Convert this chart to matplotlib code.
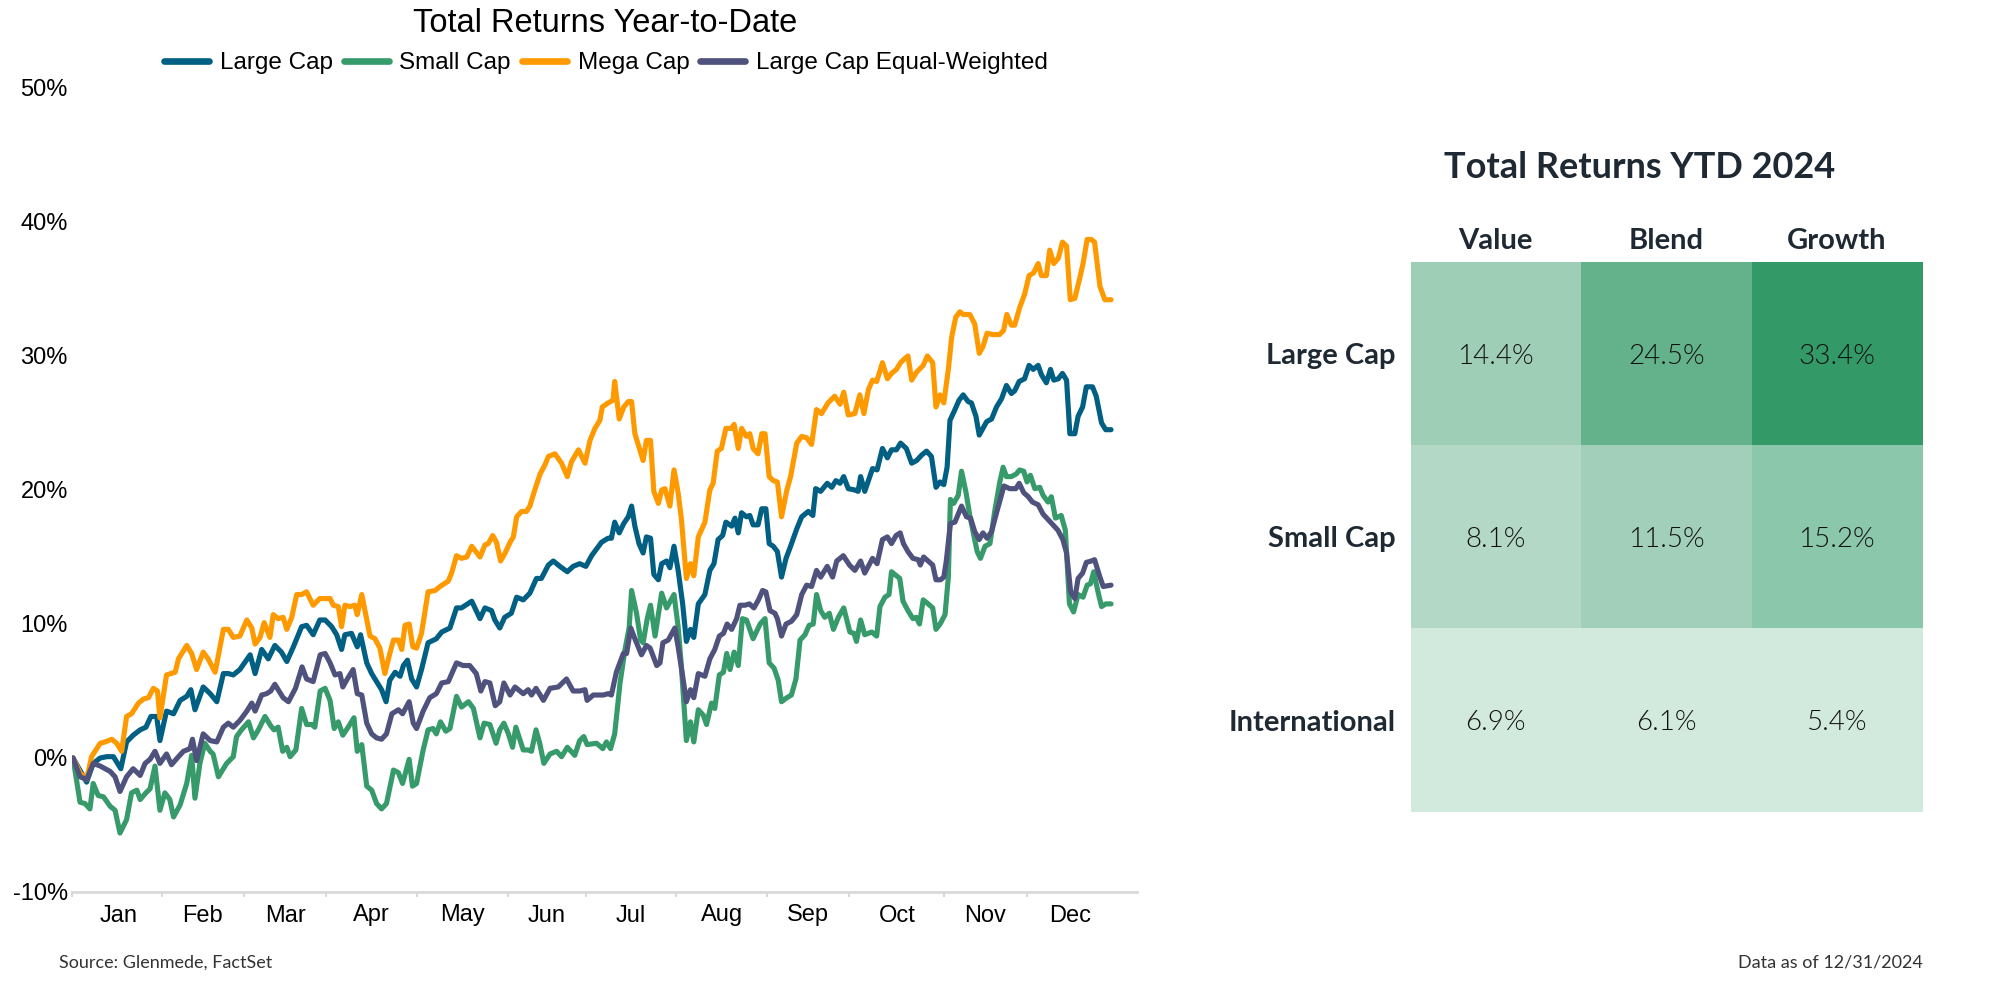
import numpy as np
import matplotlib
matplotlib.use("Agg")
import matplotlib.pyplot as plt
from matplotlib.lines import Line2D
from matplotlib.colors import to_rgb

# ---------------- DATA ----------------
# (trading session since 12/29/2023, total return %)
large_cap = [(0,0),(3.3,-1.8),(4.9,-0.4),(6.6,0.0),(8.2,0.1),(9.8,0.1),(11.6,-0.8),(13,1.2),(14.6,1.7),(16.3,2.1),
    (17.7,2.3),(18.9,3.1),(20.3,3.1),(21.1,1.3),(22.7,3.5),(24.4,3.3),(26,4.3),(27.6,4.6),(28.6,5.1),(29.6,3.6),
    (31.6,5.3),(33.3,4.8),(34.9,4.2),(36.5,6.3),(37.7,6.3),(38.9,6.2),(40.5,6.6),(43,7.7),(44.2,6.3),(45.8,8.1),
    (47.4,7.4),(49,8.4),(50.6,7.9),(51.9,7.2),(53.5,8.3),(55.5,9.8),(56.7,9.9),(58.3,9.2),(59.9,10.3),(61.2,10.3),
    (62.8,9.8),(64,9.2),(65.2,8.1),(66,9.2),(67.6,9.3),(69,8.3),(69.8,9.2),(71.3,7.1),(72.5,6.3),(73.7,5.7),
    (74.9,5.1),(76,4.2),(76.9,5.8),(78.2,6.4),(79.4,6.1),(80.2,6.9),(81.2,7.3),(82.2,5.9),(83.4,5.3),(84.6,6.6),
    (86.2,8.6),(88.2,8.9),(89.5,9.4),(91.5,9.7),(93.1,11.2),(94.3,11.2),(96.8,11.7),(98.8,10.4),(100,11.2),(101.6,11.0),
    (102.4,10.3),(103.6,9.7),(104.8,10.5),(106.4,10.8),(107.7,12.0),(109.3,11.8),(110.9,12.3),(112.5,13.4),(113.7,13.4),
    (115.4,14.4),(116.6,14.7),(118.2,14.3),(120,13.9),(121.4,14.3),(123,14.5),(124.5,14.3),(125.9,15.1),(127.1,15.6),
    (128.3,16.1),(129.9,16.4),(130.7,16.4),(131.5,17.6),(132.6,16.8),(133.7,17.5),(134.8,18.0),(135.6,18.8),(136.4,17.3),
    (137.4,16.0),(138.4,15.3),(139.2,16.5),(140.2,16.4),(141,13.7),(142.1,13.3),(142.9,14.5),(144.1,14.7),(144.9,14.2),
    (145.9,15.8),(146.9,14.0),(148,11.5),(148.9,8.7),(149.9,9.6),(150.7,9.0),(151.8,11.5),(153.4,12.2),(154.6,14.0),
    (155.6,14.5),(156.6,16.3),(157.7,16.6),(158.5,17.6),(159.9,17.3),(160.7,17.9),(161.5,16.8),(162.3,18.3),(163.5,18.0),
    (164.3,18.1),(165.1,17.4),(166.3,17.4),(167.2,18.6),(168.2,18.6),(169,16.0),(170,15.8),(171,15.4),(172,13.5),
    (173.1,14.9),(174.2,15.8),(175.7,17.1),(176.9,18.0),(178.5,18.4),(179.6,18.1),(180.3,20.1),(181.5,19.9),(183.1,20.5),
    (184.2,20.2),(185.2,20.7),(186.2,20.5),(187.1,21.0),(188.2,20.1),(189.8,20.0),(190.6,19.9),(191.2,21.0),(192.2,19.9),
    (193.1,20.7),(194.1,21.6),(195.2,21.5),(196.5,23.1),(197.7,22.4),(198.7,23.0),(199.9,23.0),(200.9,23.5),(202.3,23.1),
    (203.6,22.0),(204.8,22.2),(206,22.6),(207.2,22.9),(208.4,22.5),(209.5,20.2),(210.5,20.6),(211.4,20.4),(212.2,21.7),
    (212.9,25.2),(214.1,26.0),(215.1,26.7),(216.1,27.1),(217.3,26.6),(218.1,26.5),(219.2,25.5),(220,24.1),(220.9,24.6),
    (221.8,25.1),(223,25.3),(224.2,26.2),(225.4,26.8),(226.6,27.8),(227.8,27.2),(228.6,27.4),(229.7,28.1),(231,28.3),
    (232.1,29.3),(233.1,29.0),(234.3,29.3),(235.1,28.6),(236.3,28.0),(237.3,29.0),(238.1,28.2),(239.2,28.3),(240.2,28.7),
    (241.2,28.2),(242,24.2),(243.2,24.2),(244,25.5),(245.1,26.2),(246,27.7),(247.5,27.7),(248.4,27.0),(249.7,25.0),
    (250.7,24.5),(252,24.5)]

small_cap = [(0,0),(1.7,-3.3),(2.9,-3.4),(4.1,-3.8),(4.9,-1.9),(6.1,-2.8),(7.4,-2.9),(9,-3.6),(10.2,-3.9),(11.4,-5.6),
    (13,-4.6),(14.2,-2.6),(15.5,-2.4),(16.3,-3.1),(17.7,-2.6),(18.7,-2.3),(19.9,-0.6),(21.1,-3.9),(22.3,-2.6),(23.5,-3.1),
    (24.4,-4.4),(26,-3.5),(27.6,-1.9),(28.8,0.2),(29.6,-3.0),(30.8,-0.4),(32,1.1),(33.3,0.5),(34,0.3),(35.3,-1.4),
    (37.3,-0.4),(38.9,0.1),(39.7,1.6),(40.9,2.1),(42.6,2.7),(43.8,1.5),(45,2.1),(46.6,3.1),(48,2.4),(48.8,2.1),
    (49.8,2.3),(50.9,0.5),(51.9,0.8),(52.7,0.1),(54.1,0.6),(55.5,3.7),(56.7,2.5),(58,2.5),(58.7,2.3),(60,5.0),
    (61.2,5.2),(62.4,4.3),(63.4,2.2),(64.4,2.7),(65.5,1.7),(66.8,2.3),(68.2,3.0),(69,0.5),(70.1,1.0),(71.3,-2.1),
    (72.5,-2.4),(73.7,-3.4),(74.9,-3.8),(76.1,-3.4),(77.8,-0.9),(79,-1.1),(80,-1.9),(81.6,-0.1),(82.4,-2.1),(83.4,-1.9),
    (85,0.6),(86.2,2.1),(87.4,2.2),(88.2,1.8),(89.2,2.7),(90.5,2.0),(91.5,2.2),(93.1,4.6),(94.3,3.8),(96,4.2),
    (97.2,3.7),(98.8,1.5),(99.8,2.6),(101.2,2.5),(102.7,1.1),(103.6,2.1),(104.6,2.6),(105.7,1.8),(106.7,0.8),(107.5,2.3),
    (109.3,0.6),(110.5,0.6),(111.3,0.5),(112.4,2.1),(113.3,1.1),(114.3,-0.4),(115.8,0.3),(117.4,0.5),(118.6,0.1),(120,0.8),
    (121.8,0.2),(123,1.3),(124,1.6),(124.8,1.0),(127.1,1.1),(128.6,0.7),(129.5,1.2),(130.5,0.7),(131.5,1.8),(132.8,5.6),
    (134,8.1),(135,9.7),(135.6,12.5),(136.8,10.8),(137.8,8.8),(138.4,8.6),(139.4,10.4),(140.2,11.4),(141.3,9.1),(142.1,10.7),
    (142.9,12.3),(144.1,11.2),(145.9,12.2),(146.9,9.8),(147.7,6.8),(148.9,1.3),(149.9,2.7),(150.7,1.2),(151.8,3.6),(153,3.2),
    (153.8,2.5),(155,4.1),(155.8,3.7),(156.9,6.2),(157.9,6.4),(158.7,7.8),(159.5,6.6),(160.5,7.9),(161.5,6.9),(162.5,10.4),
    (163.5,10.3),(165.1,8.9),(166.8,10.0),(168,10.4),(169,7.1),(170.2,6.7),(171.2,5.8),(172,4.2),(173.3,4.5),(174.4,4.7),
    (175.5,5.9),(176.5,8.8),(177.7,9.2),(178.7,9.9),(179.7,10.0),(180.5,12.2),(181.5,11.0),(182.5,10.5),(183.6,10.8),
    (184.6,9.6),(185.8,10.5),(187.1,11.2),(188.6,9.4),(189.6,9.3),(190.2,8.7),(191.2,10.3),(192.2,9.2),(193.9,9.4),
    (195.1,9.1),(195.9,11.3),(197.1,12.0),(198.1,12.2),(198.7,13.9),(200.7,13.4),(201.5,11.7),(202.7,11.0),(203.9,10.4),
    (204.7,10.5),(205.5,10.0),(206.4,11.8),(207.6,11.5),(208.7,11.2),(209.5,9.6),(210.5,10.0),(211.7,10.7),(212.5,13.5),
    (213,19.3),(213.8,19.0),(214.9,19.6),(215.7,21.4),(216.8,19.8),(217.7,18.1),(218.7,16.6),(219.5,15.4),(220.3,14.9),
    (221.4,15.8),(222.6,16.0),(223.8,18.5),(225,20.6),(225.8,21.7),(226.6,21.0),(227.8,21.0),(229,21.2),(229.8,21.5),
    (230.8,21.4),(231.6,20.6),(232.4,21.1),(233.5,20.1),(234.7,20.2),(235.5,19.6),(236.7,19.1),(237.5,19.5),(238.5,17.9),
    (239.9,18.1),(240.9,17.0),(241.9,11.5),(242.9,10.9),(244,12.2),(245.2,12.0),(246.2,12.9),(247,13.0),(247.8,13.9),
    (248.9,12.3),(249.7,11.3),(250.7,11.5),(252,11.5)]

mega_cap = [(0,0),(1.7,-1.1),(3.3,-1.6),(4.5,0.1),(6.6,1.1),(7.8,1.2),(9.4,1.4),(10.6,1.1),(11.8,0.5),(13,3.1),
    (14.2,3.3),(15.9,4.1),(17.1,4.4),(18.3,4.5),(19.5,5.2),(20.5,5.0),(21.1,3.0),(22.7,6.2),(24.8,6.4),(25.6,7.4),
    (27.6,8.4),(28.8,7.8),(30,6.6),(31.6,7.9),(32.8,7.4),(34.5,6.4),(36.5,9.6),(37.7,9.6),(38.9,9.0),(40.5,9.1),
    (42.2,10.3),(43.4,9.7),(44.2,8.5),(45.4,9.0),(46.4,10.1),(47.8,9.0),(48.6,10.7),(49.8,10.4),(51,10.5),(51.9,9.6),
    (53.1,10.5),(54.3,12.2),(55.5,12.2),(56.7,12.4),(58.3,11.4),(59.9,11.9),(62.4,11.9),(63.2,11.4),(64.4,11.3),(65.2,9.8),
    (66,11.4),(67.2,11.3),(68.4,11.4),(69,10.7),(70.1,12.2),(72.1,9.1),(73.3,8.9),(74.5,8.2),(75.7,6.3),(76.9,7.8),
    (77.8,8.8),(79,8.8),(79.8,8.1),(80.6,9.9),(81.6,10.0),(82.5,8.3),(83.4,8.2),(84.6,9.3),(86.2,12.4),(87.9,12.5),
    (89.1,12.8),(91.1,13.2),(91.9,13.8),(93.1,15.1),(94.3,14.9),(95.6,15.0),(96.8,15.8),(98.8,15.0),(100,15.9),(100.8,16.0),
    (101.9,16.6),(102.8,16.1),(103.8,14.7),(104.9,15.3),(106.1,16.1),(106.9,16.5),(107.7,18.0),(108.9,18.4),(110.1,18.4),
    (110.9,18.8),(112.2,20.1),(113.4,21.2),(114.6,21.9),(115.4,22.5),(117,22.7),(118.6,22.0),(120,21.0),(121,22.1),
    (122.7,23.0),(124.3,22.0),(125.5,23.7),(126.7,24.6),(127.9,25.2),(128.5,26.2),(129.9,26.5),(131.1,26.7),(131.5,28.1),
    (132.6,25.3),(133.7,26.2),(134.8,26.6),(135.6,26.6),(136.4,24.2),(137.6,23.0),(138.4,22.2),(139.2,23.7),(140.2,23.7),
    (141,19.9),(142.1,19.0),(142.9,20.0),(143.7,20.1),(144.9,18.8),(145.9,21.5),(146.9,19.8),(147.7,17.8),(148.9,13.4),
    (149.9,14.5),(150.7,13.6),(151.8,16.5),(153.4,17.6),(154.6,20.0),(155.4,20.5),(156.4,22.9),(157.4,23.1),(158.5,24.6),
    (159.9,24.6),(160.5,24.9),(161.5,23.1),(162.3,24.6),(163.5,24.0),(164.3,24.2),(165.1,23.1),(166.3,22.7),(167.2,24.2),
    (168,24.2),(169,21.0),(170,20.7),(171,20.6),(172,18.0),(173.3,20.0),(174.2,21.0),(175.7,23.5),(176.9,24.0),(178.1,23.9),
    (179.3,23.4),(180.5,26.0),(181.7,25.7),(183.3,26.5),(184.9,27.0),(186.2,26.4),(187.1,27.3),(188.2,25.6),(189.8,25.7),
    (191,27.1),(192,25.7),(193.1,27.5),(194.1,28.2),(195.1,28.1),(196.5,29.5),(197.7,28.3),(198.7,28.7),(199.9,29.0),
    (200.9,29.5),(201.9,29.8),(202.7,30.0),(203.6,28.2),(204.8,28.8),(206.4,29.3),(207.4,30.0),(208.7,29.5),(209.5,26.2),
    (210.5,27.1),(211.4,26.5),(212.5,29.0),(213.3,31.4),(214.3,32.9),(215.3,33.3),(216.1,33.1),(217.7,33.1),(218.9,32.4),
    (220,30.2),(220.9,30.7),(221.9,31.7),(223.3,31.6),(224.9,31.6),(225.9,31.9),(226.7,33.1),(227.8,32.3),(228.6,32.3),
    (229.8,33.6),(231,34.6),(232.1,36.0),(233.2,36.2),(234.3,36.9),(235.1,36.0),(236.3,36.0),(237.1,37.9),(238.1,36.9),
    (239.2,37.3),(240.2,38.5),(241.2,38.2),(242.1,34.2),(243.2,34.3),(244.4,35.8),(245.2,36.9),(246.2,38.7),(247.2,38.7),
    (248,38.5),(249.3,35.2),(250.5,34.2),(252,34.2)]

equal_weighted = [(0,0),(1.7,-1.4),(3.3,-1.6),(4.9,-0.4),(6.6,-0.6),(9,-1.0),(10.2,-1.4),(11.4,-2.5),(13,-1.4),(14.6,-0.8),
    (16.3,-1.3),(17.5,-0.4),(18.7,-0.1),(19.9,0.5),(21.1,-0.4),(22.7,0.3),(23.9,-0.5),(25.6,0.1),(26.8,0.5),(28.4,0.7),
    (29,1.4),(30,-0.2),(31.6,1.8),(33.3,1.3),(34.9,1.2),(36.5,2.3),(37.7,2.6),(38.9,2.3),(40.5,2.8),(42.2,3.5),
    (43.4,4.1),(44.2,3.5),(45.8,4.7),(47,4.8),(48,5.0),(49,5.5),(51,4.5),(52.3,4.2),(54,5.2),(55.6,6.8),
    (56.7,5.9),(58.3,5.7),(60,7.7),(61.2,7.8),(62.4,7.1),(63.6,6.2),(64.8,6.3),(65.5,5.3),(66.4,5.8),(68,6.6),
    (69,4.8),(70.1,4.7),(71.3,2.6),(72.5,1.8),(73.7,1.5),(74.9,1.4),(76.1,1.8),(77.4,3.3),(79,3.6),(80,3.3),
    (81.6,4.2),(82.6,2.6),(83.4,2.2),(85,3.5),(86.6,4.5),(88.2,4.8),(89.5,5.6),(91.1,5.7),(93.1,7.1),(94.7,6.9),
    (96.3,6.9),(97.9,6.3),(99,5.0),(100,5.7),(101.2,5.6),(102.5,3.9),(103.6,4.2),(104.6,5.6),(106.1,4.7),(107.3,5.3),
    (109.3,4.8),(110.5,5.1),(111.3,4.7),(112.4,5.2),(114.2,4.3),(115.8,5.2),(117.8,5.3),(119.8,5.9),(121.4,5.0),(123,5.0),
    (124.3,5.1),(124.8,4.3),(126.3,4.7),(128.7,4.7),(129.9,4.8),(130.7,4.7),(131.9,6.4),(133.6,7.8),(134.4,7.8),(135.4,9.7),
    (136.4,8.9),(138,7.7),(139.2,8.4),(140.1,8.2),(141.7,6.9),(142.5,7.1),(143.2,8.6),(144.5,8.8),(146.1,9.7),(146.9,8.3),
    (148,6.1),(148.9,4.2),(149.9,5.1),(150.7,4.5),(151.8,6.3),(153.4,6.1),(154.6,7.4),(155.8,8.1),(156.9,9.1),(157.9,9.3),
    (158.8,10.0),(159.9,9.6),(161.1,10.4),(161.9,11.4),(163.1,11.4),(164.2,11.5),(165.3,11.2),(166.4,11.8),(167.4,12.5),
    (168.2,12.4),(169.2,11.0),(170.4,10.8),(171,10.4),(172,9.1),(173.1,10.0),(174.4,10.2),(175.7,10.7),(176.9,12.2),
    (178.1,12.9),(179.3,12.8),(180.5,14.0),(181.5,13.5),(183.1,14.3),(184.4,13.5),(185.4,14.7),(187,15.1),(188.5,14.4),
    (189.8,14.0),(191.2,14.7),(192.2,13.8),(194.1,14.9),(195.2,14.5),(196.5,16.3),(197.7,16.5),(198.7,16.0),(199.8,16.6),
    (200.8,16.8),(201.6,16.0),(202.7,15.4),(203.9,14.9),(205.2,14.8),(205.7,14.4),(206.5,15.0),(207.6,14.7),(208.7,14.4),
    (209.5,13.3),(210.6,13.3),(211.4,13.5),(212,14.7),(213,17.5),(214.1,17.6),(215.7,18.8),(216.9,18.0),(217.9,17.9),
    (218.9,16.9),(220,16.3),(220.9,16.8),(221.9,16.4),(223,16.9),(224.2,18.3),(226,20.3),(227.4,20.1),(228.9,20.1),
    (229.7,20.5),(230.8,19.8),(231.9,19.5),(232.9,19.1),(234.3,18.9),(235.5,18.2),(236.7,17.8),(237.9,17.4),(239.1,17.0),
    (240.3,16.3),(241.2,15.3),(242.2,12.4),(243.2,11.9),(244,13.4),(245.1,13.8),(246,14.6),(247.2,14.7),(248,14.8),
    (249.3,13.5),(250.1,12.8),(252,12.9)]

series_names = ["Large Cap", "Small Cap", "Mega Cap", "Large Cap Equal-Weighted"]
series_data = [large_cap, small_cap, mega_cap, equal_weighted]
series_colors = ["#005F83", "#369A6A", "#FF9900", "#4F527C"]

months = ["Jan", "Feb", "Mar", "Apr", "May", "Jun", "Jul", "Aug", "Sep", "Oct", "Nov", "Dec"]
nyse_holidays_2024 = ["2024-01-01", "2024-01-15", "2024-02-19", "2024-03-29", "2024-05-27",
                      "2024-06-19", "2024-07-04", "2024-09-02", "2024-11-28", "2024-12-25"]
y_ticks = [-10, 0, 10, 20, 30, 40, 50]

table_title = "Total Returns YTD 2024"
table_cols = ["Value", "Blend", "Growth"]
table_rows = ["Large Cap", "Small Cap", "International"]
table_vals = [[14.4, 24.5, 33.4],
              [8.1, 11.5, 15.2],
              [6.9, 6.1, 5.4]]
table_colors = [["#9FCEB7", "#64B28B", "#339966"],
                ["#B3D9C6", "#A1CFBA", "#8BC7AA"],
                ["#D2EADD", "#D2EADD", "#D2EADD"]]

source_text = "Source: Glenmede, FactSet"
asof_text = "Data as of 12/31/2024"

# ---------------- FIGURE ----------------
W, H = 2000, 986
fig = plt.figure(figsize=(W / 100, H / 100), dpi=100)

def fx(px):
    return px / W

def fy(py):
    return 1 - py / H

SANS = ["Liberation Sans", "DejaVu Sans"]
LATO = ["Lato", "DejaVu Sans"]

ax = fig.add_axes([fx(72), fy(892), fx(1137) - fx(72), fy(88) - fy(892)])
for name, pts, col in zip(series_names, series_data, series_colors):
    t, v = zip(*pts)
    ax.plot(t, v, color=col, lw=3.7, solid_joinstyle="round", solid_capstyle="round")

ax.set_ylim(-10, 50)
ax.set_xlim(-0.25, 258.3)
for s in ["top", "right", "left"]:
    ax.spines[s].set_visible(False)
ax.spines["bottom"].set_color("#d9d9d9")
ax.spines["bottom"].set_linewidth(2)

ax.set_yticks(y_ticks)
ax.set_yticklabels([f"{v}%" for v in y_ticks], fontsize=17, family=SANS)
ax.tick_params(axis="y", length=0, pad=3)

# month boundaries from the NYSE trading calendar
hol = np.array(nyse_holidays_2024, dtype="datetime64[D]")
firsts = []
for m in range(1, 13):
    d = np.busday_offset(np.datetime64(f"2024-{m:02d}-01"), 0, roll="forward", holidays=hol)
    firsts.append(int(np.busday_count(np.datetime64("2024-01-01"), d, holidays=hol)) + 1)
n_sessions = int(np.busday_count(np.datetime64("2024-01-01"), np.datetime64("2025-01-01"), holidays=hol))
bounds = [f - 0.5 for f in firsts] + [n_sessions + 0.5]
major = [ax.get_xlim()[0]] + bounds[1:12]
centers = [(bounds[i] + bounds[i + 1]) / 2 for i in range(12)]
ax.set_xticks(major)
ax.set_xticklabels([])
ax.set_xticks(centers, minor=True)
ax.set_xticklabels(months, minor=True, fontsize=17, family=SANS)
ax.tick_params(axis="x", which="major", length=3.5, width=1.5, color="#d9d9d9")
ax.tick_params(axis="x", which="minor", length=0, pad=9)

# title + legend
fig.text(fx(605), fy(24), "Total Returns Year-to-Date", ha="center", va="center",
         fontsize=23.5, family=SANS, color="black")
handles = [Line2D([], [], color=c, lw=4.8, solid_capstyle="round") for c in series_colors]
fig.legend(handles, series_names, loc="center", bbox_to_anchor=(fx(606), fy(63)), ncol=4,
           frameon=False, prop={"family": SANS, "size": 17.5}, handlelength=1.85,
           handletextpad=0.45, columnspacing=0.45, borderpad=0, borderaxespad=0)

# ---------------- TABLE ----------------
tx0, tx1, ty0, ty1 = 1410.5, 1922, 262, 812
tax = fig.add_axes([fx(tx0), fy(ty1), fx(tx1) - fx(tx0), fy(ty0) - fy(ty1)])
rgb = np.array([[to_rgb(c) for c in row] for row in table_colors])
tax.imshow(rgb, extent=[0, 3, 3, 0], aspect="auto", interpolation="nearest")
tax.set_xlim(0, 3)
tax.set_ylim(3, 0)
tax.axis("off")

cw = (tx1 - tx0) / 3
rh = (ty1 - ty0) / 3
dark = "#1F2933"
for i, r in enumerate(table_rows):
    tax.text((1396 - tx0) / cw, i + 0.5, r, ha="right", va="center_baseline", fontsize=21,
             family=LATO, fontweight="bold", color=dark)
    for j in range(3):
        tax.text(j + 0.5, i + 0.5, f"{table_vals[i][j]:.1f}%", ha="center", va="center_baseline",
                 fontsize=20, family=LATO, fontweight=300, color="#111111", zorder=5)
for j, c in enumerate(table_cols):
    tax.text(j + 0.5, (241 - ty0) / rh, c, ha="center", va="center", fontsize=21,
             family=LATO, fontweight="bold", color=dark)
tax.text((1640 - tx0) / cw, (167 - ty0) / rh, table_title, ha="center", va="center",
         fontsize=26, family=LATO, fontweight="bold", color=dark)

# ---------------- FOOTER ----------------
fig.text(fx(59), fy(963), source_text, ha="left", va="center", fontsize=13, family=LATO, color="#333333")
fig.text(fx(1923), fy(963), asof_text, ha="right", va="center", fontsize=13, family=LATO, color="#333333")

fig.savefig("out.png", dpi=100)
